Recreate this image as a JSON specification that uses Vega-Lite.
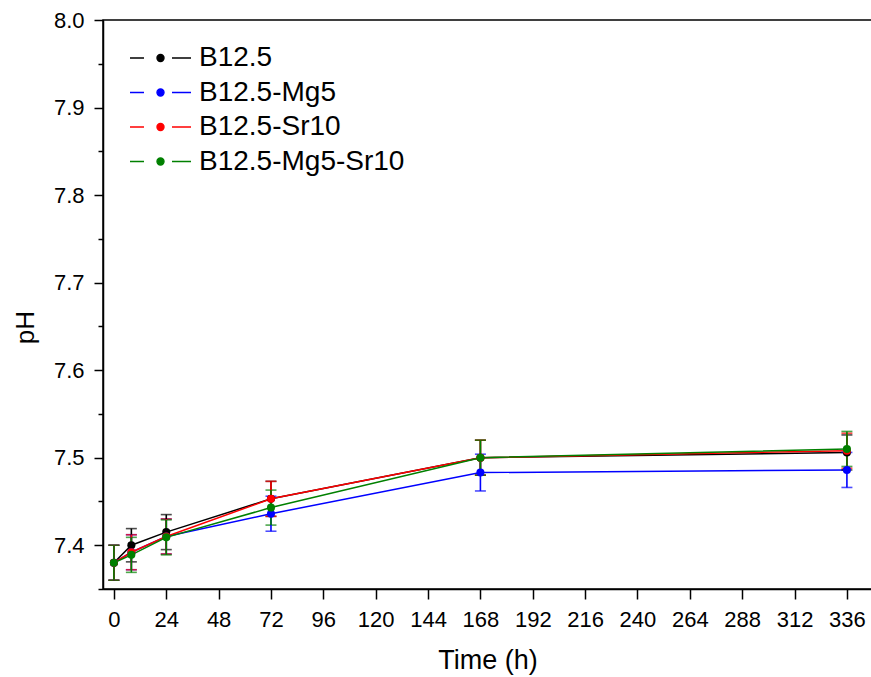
{
  "$schema": "https://vega.github.io/schema/vega-lite/v6.json",
  "width": 769,
  "height": 569,
  "autosize": "none",
  "padding": {"left": 103, "top": 20, "right": 0, "bottom": 88},
  "background": "white",
  "config": {
    "view": {"stroke": "black", "strokeWidth": 1.5},
    "font": "Liberation Sans",
    "axis": {"grid": false, "domainColor": "black", "tickColor": "black", "labelColor": "black", "titleColor": "black", "domainWidth": 1.5, "tickWidth": 1.5, "titleFontWeight": "normal", "labelFont": "Liberation Sans", "titleFont": "Liberation Sans"}
  },
  "data": {
    "values": [
      {"series": "B12.5", "t": 0, "ph": 7.380, "sd": 0.02},
      {"series": "B12.5", "t": 8, "ph": 7.400, "sd": 0.019},
      {"series": "B12.5", "t": 24, "ph": 7.415, "sd": 0.02},
      {"series": "B12.5", "t": 72, "ph": 7.453, "sd": 0.02},
      {"series": "B12.5", "t": 168, "ph": 7.500, "sd": 0.02},
      {"series": "B12.5", "t": 336, "ph": 7.506, "sd": 0.02},
      {"series": "B12.5-Mg5", "t": 0, "ph": 7.380, "sd": 0.02},
      {"series": "B12.5-Mg5", "t": 8, "ph": 7.392, "sd": 0.02},
      {"series": "B12.5-Mg5", "t": 24, "ph": 7.410, "sd": 0.02},
      {"series": "B12.5-Mg5", "t": 72, "ph": 7.436, "sd": 0.02},
      {"series": "B12.5-Mg5", "t": 168, "ph": 7.483, "sd": 0.021},
      {"series": "B12.5-Mg5", "t": 336, "ph": 7.486, "sd": 0.02},
      {"series": "B12.5-Sr10", "t": 0, "ph": 7.380, "sd": 0.02},
      {"series": "B12.5-Sr10", "t": 8, "ph": 7.392, "sd": 0.02},
      {"series": "B12.5-Sr10", "t": 24, "ph": 7.410, "sd": 0.02},
      {"series": "B12.5-Sr10", "t": 72, "ph": 7.453, "sd": 0.02},
      {"series": "B12.5-Sr10", "t": 168, "ph": 7.500, "sd": 0.02},
      {"series": "B12.5-Sr10", "t": 336, "ph": 7.508, "sd": 0.02},
      {"series": "B12.5-Mg5-Sr10", "t": 0, "ph": 7.380, "sd": 0.02},
      {"series": "B12.5-Mg5-Sr10", "t": 8, "ph": 7.389, "sd": 0.02},
      {"series": "B12.5-Mg5-Sr10", "t": 24, "ph": 7.409, "sd": 0.02},
      {"series": "B12.5-Mg5-Sr10", "t": 72, "ph": 7.443, "sd": 0.02},
      {"series": "B12.5-Mg5-Sr10", "t": 168, "ph": 7.500, "sd": 0.02},
      {"series": "B12.5-Mg5-Sr10", "t": 336, "ph": 7.510, "sd": 0.02}
    ]
  },
  "encoding": {
    "x": {
      "field": "t", "type": "quantitative",
      "scale": {"domain": [-5, 347.5], "nice": false, "zero": false},
      "axis": {"title": "Time (h)", "values": [0, 24, 48, 72, 96, 120, 144, 168, 192, 216, 240, 264, 288, 312, 336], "tickSize": 10, "labelFontSize": 22, "labelPadding": 10, "titleFontSize": 27, "titlePadding": 17, "labelFlush": false, "labelOverlap": false}
    },
    "y": {
      "field": "ph", "type": "quantitative",
      "scale": {"domain": [7.35, 8.0], "nice": false, "zero": false},
      "axis": {
        "title": "pH",
        "values": [7.35, 7.4, 7.45, 7.5, 7.55, 7.6, 7.65, 7.7, 7.75, 7.8, 7.85, 7.9, 7.95, 8.0],
        "labelExpr": "abs(datum.value*10-round(datum.value*10))>0.01 ? '' : format(datum.value,'.1f')",
        "tickSize": {"condition": {"test": "abs(datum.value*10-round(datum.value*10))>0.01", "value": 5}, "value": 9},
        "labelFontSize": 22, "labelPadding": 10, "titleFontSize": 26, "titlePadding": 15, "titleY": 307, "labelFlush": false, "labelOverlap": false
      }
    },
    "color": {
      "field": "series", "type": "nominal",
      "scale": {"domain": ["B12.5", "B12.5-Mg5", "B12.5-Sr10", "B12.5-Mg5-Sr10"], "range": ["#000000", "#0000ff", "#ff0000", "#008000"]},
      "legend": {
        "orient": "none", "legendX": 39, "legendY": 19.5, "title": null, "padding": 0,
        "symbolType": "M -1.743 0 L -0.943 0 M 0.657 0 L 1.743 0 M -0.2 0 A 0.2 0.2 0 1 0 0.2 0 A 0.2 0.2 0 1 0 -0.2 0 Z",
        "symbolSize": 1225, "symbolStrokeWidth": 1.4, "symbolOpacity": 1,
        "labelFontSize": 28, "labelOffset": 20, "rowPadding": 1.5, "labelLimit": 0, "labelColor": "black", "labelFont": "Liberation Sans",
        "encode": {"symbols": {"update": {"fill": {"scale": "color", "field": "value"}, "stroke": {"scale": "color", "field": "value"}}}}
      }
    }
  },
  "layer": [
    {"mark": {"type": "line", "strokeWidth": 1.5}},
    {"mark": {"type": "errorbar", "ticks": true, "thickness": 1.6, "size": 11}, "encoding": {"yError": {"field": "sd"}}},
    {"mark": {"type": "point", "filled": true, "size": 65, "opacity": 1}}
  ]
}
